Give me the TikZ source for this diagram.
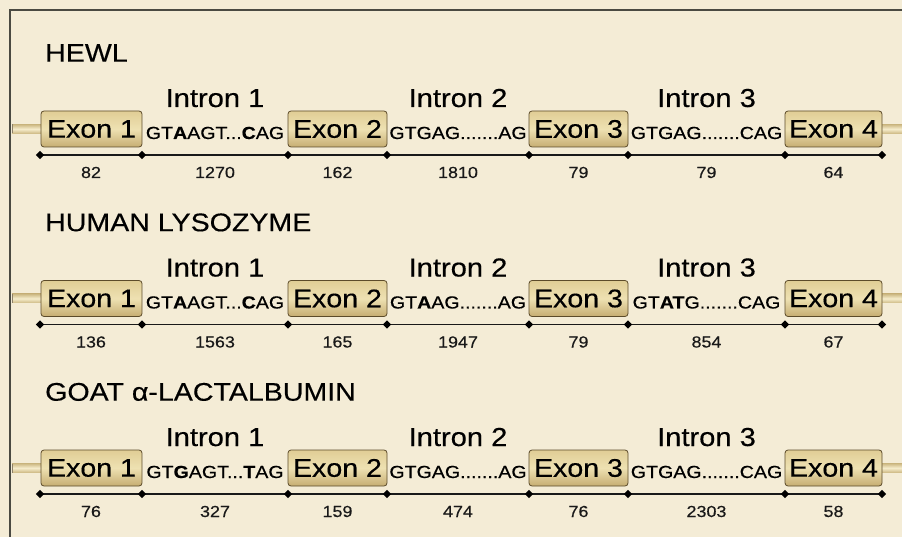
\documentclass[tikz,border=0pt]{standalone}
\usepackage{fontspec}
\setmainfont{Liberation Sans}[FakeBold=0.35]
\usepackage{graphicx}
\usetikzlibrary{shapes.geometric}
\definecolor{bg}{HTML}{F4ECD6}
\definecolor{frameclr}{HTML}{4A4A42}
\definecolor{exborder}{HTML}{5C4B2A}
\definecolor{extop}{HTML}{E0CD95}
\definecolor{exmid}{HTML}{EEE1B2}
\definecolor{exbot}{HTML}{C6AD72}
\definecolor{stubdark}{HTML}{CDB984}
\definecolor{stublight}{HTML}{F6EDCC}
\newcommand{\hs}[1]{\scalebox{1.12}[1]{#1}}
\newcommand{\generow}[7]{%
  \node[titletext, anchor=base west] (#2t) at (45,#1-67.3) {\hs{#3}};
  \shade[stubshade] (12,#1-4.5) rectangle (41,#1+4.5);
  \draw[stubedge] (12,#1-4.5) -- (12,#1+4.5);
  \shade[stubshade] (882,#1-4.5) rectangle (903,#1+4.5);
  \foreach \x [count=\i] in {40,142,288,387,529,628,785,882} {
    \coordinate (#2c\i) at (\x,#1+26);
  }
  \draw[gline] (#2c1) -- (#2c8);
  \foreach \i in {1,...,8} { \node[dia] (#2d\i) at (#2c\i) {}; }
  \foreach \a/\b/\k in {41/142/1, 288/387/2, 529/628/3, 785/882/4} {
    \node[exon, minimum width={\b-\a}] (#2e\k) at ({(\a+\b)/2},#1) {\hs{Exon \k}};
  }
  \foreach \n [count=\i, evaluate=\i as \j using int(\i+1)] in {#4} {
    \path (#2d\i.center) -- (#2d\j.center) node[numtext, midway, anchor=base, yshift=-23pt] (#2n\i) {\hs{\n}};
  }
  \foreach \k/\a/\b in {1/2/3, 2/4/5, 3/6/7} {
    \path (#2d\a.center) -- (#2d\b.center) node[introntext, midway, anchor=base, yshift=48pt] (#2i\k) {\hs{Intron \k}};
  }
  \path (#2d2.center) -- (#2d3.center) node[seqtext, midway, anchor=base, yshift=16pt] (#2s1) {\hs{#5}};
  \path (#2d4.center) -- (#2d5.center) node[seqtext, midway, anchor=base, yshift=16pt] (#2s2) {\hs{#6}};
  \path (#2d6.center) -- (#2d7.center) node[seqtext, midway, anchor=base, yshift=16pt] (#2s3) {\hs{#7}};
}
\begin{document}
\begin{tikzpicture}[x=1pt, y=-1pt,
  titletext/.style={inner sep=0pt, font=\fontsize{25.5}{30}\selectfont},
  introntext/.style={inner sep=0pt, font=\fontsize{26}{30}\selectfont},
  seqtext/.style={inner sep=0pt, font=\fontsize{17.5}{20}\selectfont},
  numtext/.style={inner sep=0pt, font=\fontsize{16}{18}\selectfont, text=black!90},
  exon/.style={draw=exborder, line width=0.8pt, rounded corners=3pt,
    top color=extop, bottom color=exbot, middle color=exmid,
    minimum height=36pt, inner sep=0pt, font=\fontsize{25.5}{30}\selectfont},
  stubshade/.style={top color=stubdark, bottom color=stubdark, middle color=stublight},
  stubedge/.style={draw=exborder!70, line width=0.8pt},
  gline/.style={draw=black!90, line width=1.2pt},
  dia/.style={diamond, fill=black, inner sep=0pt, minimum size=8.5pt},
  frame/.style={draw=frameclr, line width=1.5pt}
]
\fill[bg] (0,0) rectangle (902,537);
\useasboundingbox (0,0) rectangle (902,537);
\draw[frame] (10,538) -- (10,10) -- (903,10);
\generow{129}{a}{HEWL}{82,1270,162,1810,79,79,64}%
  {GT\textbf{A}AGT...\textbf{C}AG}{GTGAG.......AG}{GTGAG.......CAG}
\generow{298.5}{b}{HUMAN LYSOZYME}{136,1563,165,1947,79,854,67}%
  {GT\textbf{A}AGT...\textbf{C}AG}{GT\textbf{A}AG.......AG}{GT\textbf{AT}G.......CAG}
\generow{468}{c}{GOAT α-LACTALBUMIN}{76,327,159,474,76,2303,58}%
  {GT\textbf{G}AGT...\textbf{T}AG}{GTGAG.......AG}{GTGAG.......CAG}
\end{tikzpicture}
\end{document}
